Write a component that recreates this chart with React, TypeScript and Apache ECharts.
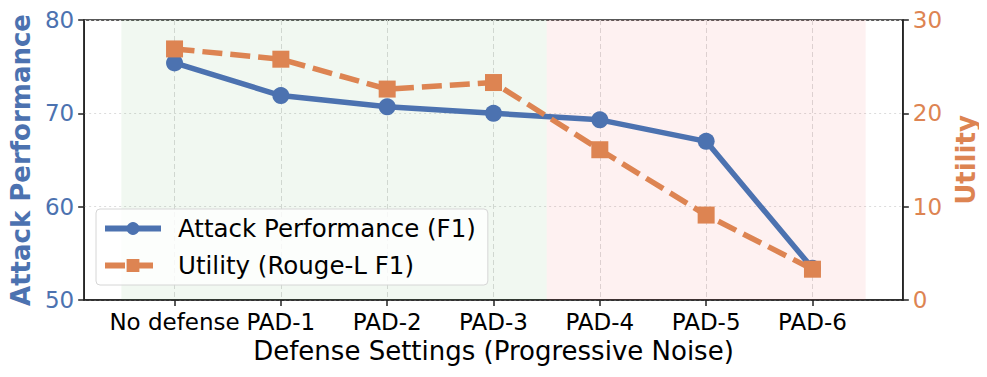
import React, { useEffect, useRef } from "react";
import * as echarts from "echarts";

const categories = ["No defense", "PAD-1", "PAD-2", "PAD-3", "PAD-4", "PAD-5", "PAD-6"];
const attackF1 = [75.4, 71.9, 70.7, 70.0, 69.3, 67.0, 53.4];
const utilityRouge = [26.9, 25.8, 22.6, 23.3, 16.1, 9.1, 3.3];
const safeRegion = [-0.5, 3.5];
const noisyRegion = [3.5, 6.5];
const leftTicks = [50, 80, 10];
const rightTicks = [0, 30, 10];

const BLUE = "#4C72B0";
const ORANGE = "#DD8452";
const FONT = "DejaVu Sans";
const tickIdx = categories.map((_, i) => i);

export default function App() {
  const ref = useRef<HTMLDivElement>(null);
  useEffect(() => {
    if (!ref.current) return;
    const chart = echarts.init(ref.current, null, { renderer: "svg" });
    chart.setOption({
      animation: false,
      backgroundColor: "#ffffff",
      grid: {
        left: 83,
        right: 83,
        top: 20,
        bottom: 77,
        show: true,
        borderColor: "#222",
        borderWidth: 1.5,
        backgroundColor: "transparent",
      },
      legend: {
        orient: "vertical",
        left: 96,
        top: 209,
        itemWidth: 56,
        itemHeight: 16,
        itemGap: 12,
        padding: [7, 12, 7, 6],
        backgroundColor: "rgba(255,255,255,0.8)",
        borderColor: "#d6d6d6",
        borderWidth: 1,
        borderRadius: 4,
        lineStyle: { width: 6 },
        textStyle: { fontFamily: FONT, fontSize: 24.5, color: "#000", padding: [0, 0, 0, 12] },
        data: ["Attack Performance (F1)", "Utility (Rouge-L F1)"],
      },
      xAxis: {
        type: "value",
        min: -0.85,
        max: 6.85,
        name: "Defense Settings (Progressive Noise)",
        nameLocation: "middle",
        nameGap: 38,
        nameTextStyle: { fontFamily: FONT, fontSize: 26, color: "#000" },
        axisLine: { show: true, onZero: false, lineStyle: { color: "#222", width: 1.5 } },
        axisTick: { show: true, length: 6, customValues: tickIdx, lineStyle: { color: "#222", width: 1.5 } },
        axisLabel: {
          customValues: tickIdx,
          margin: 10,
          fontFamily: FONT,
          fontSize: 23,
          color: "#000",
          formatter: (v: number) => categories[Math.round(v)] ?? "",
        },
        splitLine: { show: true, lineStyle: { color: "#dcdcdc", type: [5, 3], width: 1 } },
      },
      yAxis: [
        {
          type: "value",
          min: leftTicks[0],
          max: leftTicks[1],
          interval: leftTicks[2],
          name: "Attack Performance",
          nameLocation: "middle",
          nameGap: 49,
          nameRotate: 90,
          nameTextStyle: { fontFamily: FONT, fontSize: 26, fontWeight: "bold", color: BLUE },
          axisLine: { show: true, onZero: false, lineStyle: { color: "#222", width: 1.5 } },
          axisTick: { show: true, length: 6, lineStyle: { color: "#222", width: 1.5 } },
          axisLabel: { margin: 10, fontFamily: FONT, fontSize: 23, color: BLUE },
          splitLine: { show: true, lineStyle: { color: "#dcdcdc", type: [2, 3], width: 1 } },
        },
        {
          type: "value",
          min: rightTicks[0],
          max: rightTicks[1],
          interval: rightTicks[2],
          position: "right",
          name: "Utility",
          nameLocation: "middle",
          nameGap: 46,
          nameRotate: 90,
          nameTextStyle: { fontFamily: FONT, fontSize: 26, fontWeight: "bold", color: ORANGE },
          axisLine: { show: true, onZero: false, lineStyle: { color: "#222", width: 1.5 } },
          axisTick: { show: true, length: 6, lineStyle: { color: "#222", width: 1.5 } },
          axisLabel: { margin: 10, fontFamily: FONT, fontSize: 23, color: ORANGE },
          splitLine: { show: false },
        },
      ],
      series: [
        {
          name: "Attack Performance (F1)",
          type: "line",
          yAxisIndex: 0,
          data: attackF1.map((v, i) => [i, v]),
          symbol: "circle",
          symbolSize: 17,
          itemStyle: { color: BLUE },
          lineStyle: { color: BLUE, width: 5.5 },
          z: 3,
          markArea: {
            silent: true,
            data: [
              [
                { xAxis: safeRegion[0], itemStyle: { color: "rgba(80,170,80,0.08)" } },
                { xAxis: safeRegion[1] },
              ],
              [
                { xAxis: noisyRegion[0], itemStyle: { color: "rgba(240,80,80,0.08)" } },
                { xAxis: noisyRegion[1] },
              ],
            ],
          },
        },
        {
          name: "Utility (Rouge-L F1)",
          type: "line",
          yAxisIndex: 1,
          data: utilityRouge.map((v, i) => [i, v]),
          symbol: "rect",
          symbolSize: 17,
          itemStyle: { color: ORANGE },
          lineStyle: { color: ORANGE, width: 5.5, type: [20, 8] },
          z: 4,
        },
      ],
    });
    return () => chart.dispose();
  }, []);
  return <div ref={ref} style={{ width: 987, height: 377, marginLeft: -8, marginTop: -8 }} />;
}
